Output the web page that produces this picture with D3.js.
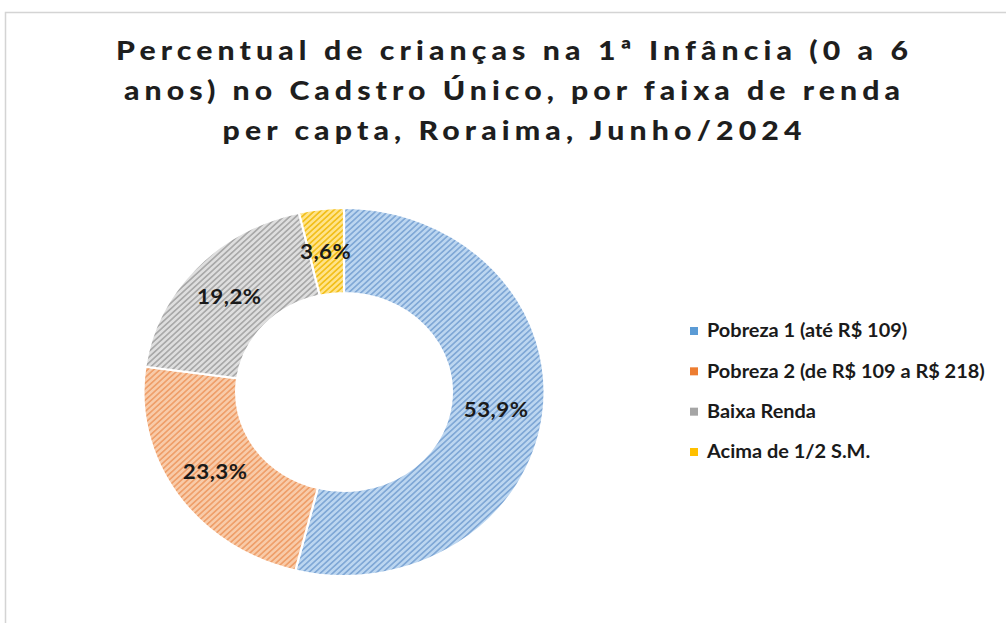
<!DOCTYPE html>
<html>
<head>
<meta charset="utf-8">
<script src="https://cdn.jsdelivr.net/npm/d3@7"></script>
<style>
  body { margin: 0; background: #fff; }
  svg { display: block; }
</style>
</head>
<body>
<svg id="chart" width="1006" height="623"></svg>
<script>
const categories = ["Pobreza 1 (até R$ 109)", "Pobreza 2 (de R$ 109 a R$ 218)", "Baixa Renda", "Acima de 1/2 S.M."];
const values = [53.9, 23.3, 19.2, 3.6];
const titleLines = ["Percentual de crianças na 1ª Infância (0 a 6", "anos) no Cadstro Único, por faixa de renda", "per capta, Roraima, Junho/2024"];

const baseColors = ["#bcd6f0", "#f8cba9", "#dedede", "#ffe38a"];
const lineColors = ["#80a8d6", "#ef9f6a", "#a9a9a9", "#f2bf1a"];
const legendColors = ["#5b9bd5", "#ed7d31", "#a5a5a5", "#ffc000"];

const svg = d3.select("#chart");
const W = 1006, H = 623;
const sx = 1.09; // reference is horizontally stretched

// chart frame (only left/top edges visible)
svg.append("path")
  .attr("d", `M5.5 ${H} V12.5 H${W}`)
  .attr("fill", "none")
  .attr("stroke", "#d4d4d4")
  .attr("stroke-width", 1.5);

// hatch patterns
const defs = svg.append("defs");
baseColors.forEach((c, i) => {
  const p = defs.append("pattern")
    .attr("id", "hatch" + i)
    .attr("patternUnits", "userSpaceOnUse")
    .attr("width", 4).attr("height", 4)
    .attr("patternTransform", "rotate(45)");
  p.append("rect").attr("width", 4).attr("height", 4).attr("fill", c);
  p.append("rect").attr("x", 0).attr("width", 1.6).attr("height", 4).attr("fill", lineColors[i]);
});

// title
const titleW = [792, 776, 579];
const tsx = 1.12;
svg.append("g")
  .selectAll("text").data(titleLines)
  .join("text")
  .attr("transform", (d, i) => `translate(512,${60 + i * 40}) scale(${tsx},1)`)
  .attr("text-anchor", "middle")
  .attr("font-family", "Lato, sans-serif")
  .attr("font-weight", "900")
  .attr("font-size", 27)
  .attr("fill", "#1e1e1e")
  .attr("textLength", (d, i) => titleW[i] / tsx)
  .attr("lengthAdjust", "spacing")
  .text(d => d);

// donut
const cx = 344, cy = 392;
const rOuter = 184, rInner = 99;

const pie = d3.pie().sort(null).value(d => d);
const arcs = pie(values);
const arc = d3.arc().innerRadius(rInner).outerRadius(rOuter);

const g = svg.append("g")
  .attr("transform", `translate(${cx},${cy}) scale(${sx},1)`);

g.selectAll("path.slice").data(arcs)
  .join("path")
  .attr("class", "slice")
  .attr("d", arc)
  .attr("fill", (d, i) => `url(#hatch${i})`)
  .attr("stroke", "#fff")
  .attr("stroke-width", 2);

svg.selectAll("g.lbl").data(arcs)
  .join("g")
  .attr("class", "lbl")
  .attr("transform", d => `translate(${cx + arc.centroid(d)[0] * sx - 1},${cy + arc.centroid(d)[1]}) scale(${sx},1)`)
  .append("text")
  .attr("dy", "0.36em")
  .attr("text-anchor", "middle")
  .attr("font-family", "Lato, sans-serif")
  .attr("font-weight", "bold")
  .attr("font-size", 20.5)
  .attr("letter-spacing", 0.4)
  .attr("fill", "#1a1a1a")
  .text(d => d.data.toFixed(1).replace(".", ",") + "%");

// legend
const ly = d3.scalePoint().domain(categories).range([331, 452]);
const leg = svg.selectAll("g.leg").data(categories)
  .join("g")
  .attr("class", "leg")
  .attr("transform", d => `translate(690,${ly(d)})`);
leg.append("rect")
  .attr("x", 0).attr("y", -4)
  .attr("width", 8).attr("height", 8)
  .attr("fill", (d, i) => legendColors[i]);
const legText = leg.append("text")
  .attr("dy", "0.36em")
  .attr("font-family", "Lato, sans-serif")
  .attr("font-weight", "bold")
  .attr("font-size", 18)
  .attr("fill", "#1a1a1a")
  .text(d => d);
// stretch legend text so the longest entry spans the same width as in the reference
const longest = d3.max(legText.nodes(), n => n.getComputedTextLength());
const lk = 278 / longest;
legText.attr("transform", `translate(17,0) scale(${lk},1)`);
</script>
</body>
</html>
